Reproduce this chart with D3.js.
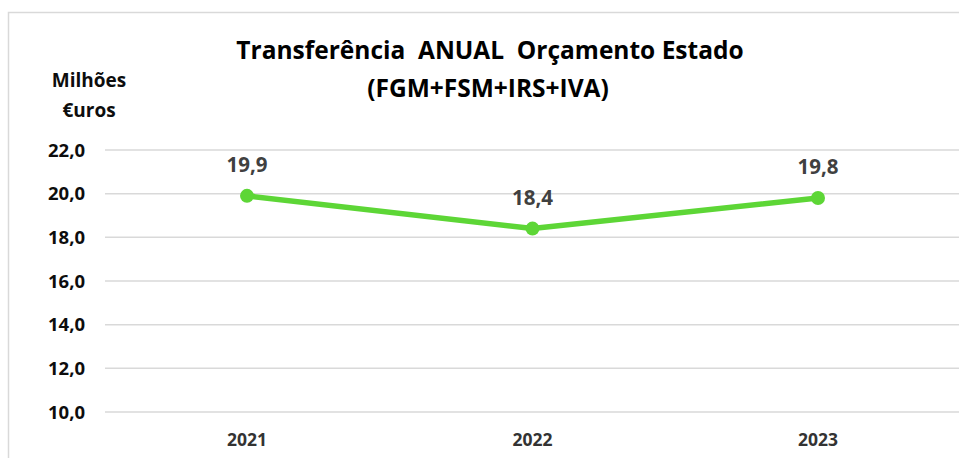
<!DOCTYPE html>
<html>
<head>
<meta charset="utf-8">
<script src="https://cdn.jsdelivr.net/npm/d3@7"></script>
<style>
  body { margin: 0; background: #fff; }
  svg { display: block; }
</style>
</head>
<body>
<svg id="svg1" width="959" height="458"></svg>
<script>
// data
var years = ['2021', '2022', '2023'];
var values = [19.9, 18.4, 19.8];
var yTicks = [10, 12, 14, 16, 18, 20, 22];

var width = 959;
var height = 458;
var font = '"Open Sans", sans-serif';

var svg = d3.select('#svg1');

// outer chart border (cropped on right and bottom)
svg.append('path')
    .attr('d', 'M8.5,470 L8.5,12.5 L970,12.5')
    .attr('fill', 'none')
    .attr('stroke', '#d9d9d9')
    .attr('stroke-width', 1.5);

var fmt = function(v){ return d3.format('.1f')(v).replace('.', ','); };

var x = d3.scalePoint()
    .domain(years)
    .range([247, 818]);

var y = d3.scaleLinear()
    .domain([10, 22])
    .range([412, 150]);

// gridlines
svg.append('g')
    .selectAll('line')
    .data(yTicks)
    .enter()
    .append('line')
    .attr('x1', 105)
    .attr('x2', 970)
    .attr('y1', function(d){ return y(d); })
    .attr('y2', function(d){ return y(d); })
    .attr('stroke', '#d9d9d9')
    .attr('stroke-width', 1.5);

// y tick labels
svg.append('g')
    .selectAll('text')
    .data(yTicks)
    .enter()
    .append('text')
    .attr('x', 85)
    .attr('y', function(d){ return y(d); })
    .attr('dy', '0.36em')
    .attr('text-anchor', 'end')
    .attr('font-family', font)
    .attr('font-weight', 'bold')
    .attr('font-size', 18.5)
    .attr('fill', '#0d0d0d')
    .text(fmt);

// x labels
svg.append('g')
    .selectAll('text')
    .data(years)
    .enter()
    .append('text')
    .attr('x', function(d){ return x(d); })
    .attr('y', 440)
    .attr('dy', '0.36em')
    .attr('text-anchor', 'middle')
    .attr('font-family', font)
    .attr('font-weight', 'bold')
    .attr('font-size', 17.5)
    .attr('fill', '#333')
    .text(function(d){ return d; });

// line
var line = d3.line()
    .x(function(d, i){ return x(years[i]); })
    .y(function(d){ return y(d); });

svg.append('path')
    .datum(values)
    .attr('d', line)
    .attr('fill', 'none')
    .attr('stroke', '#5dd636')
    .attr('stroke-width', 5.5)
    .attr('stroke-linejoin', 'round');

svg.append('g')
    .selectAll('circle')
    .data(values)
    .enter()
    .append('circle')
    .attr('cx', function(d, i){ return x(years[i]); })
    .attr('cy', function(d){ return y(d); })
    .attr('r', 7)
    .attr('fill', '#5dd636');

// data labels
svg.append('g')
    .selectAll('text')
    .data(values)
    .enter()
    .append('text')
    .attr('x', function(d, i){ return x(years[i]); })
    .attr('y', function(d){ return y(d) - 31; })
    .attr('dy', '0.36em')
    .attr('text-anchor', 'middle')
    .attr('font-family', font)
    .attr('font-weight', 'bold')
    .attr('font-size', 20.5)
    .attr('fill', '#404040')
    .text(fmt);

// title
var title = svg.append('text')
    .attr('text-anchor', 'middle')
    .attr('font-family', font)
    .attr('font-weight', 'bold')
    .attr('font-size', 24.5)
    .attr('fill', '#000');
title.append('tspan').attr('x', 490).attr('y', 59).attr('xml:space', 'preserve').text('Transferência  ANUAL  Orçamento Estado');
title.append('tspan').attr('x', 488).attr('y', 97).text('(FGM+FSM+IRS+IVA)');

// y axis label
var ylab = svg.append('text')
    .attr('text-anchor', 'middle')
    .attr('font-family', font)
    .attr('font-weight', 'bold')
    .attr('font-size', 19)
    .attr('fill', '#0d0d0d');
ylab.append('tspan').attr('x', 89).attr('y', 87).text('Milhões');
ylab.append('tspan').attr('x', 89).attr('y', 117).text('€uros');
</script>
</body>
</html>
